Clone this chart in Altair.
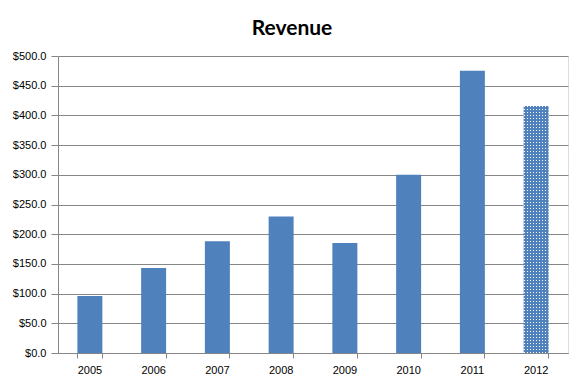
import altair as alt
import pandas as pd

years = ["2005", "2006", "2007", "2008", "2009", "2010", "2011", "2012"]
revenue = [96, 143, 188, 230, 185, 300, 475, 416]
forecast = [False, False, False, False, False, False, False, True]
yticks = [0, 50, 100, 150, 200, 250, 300, 350, 400, 450, 500]

BLUE = "#4f81bd"
GRID = "#868686"
W, H = 510, 297
YMAX = 500
BAR_W = 25.0

df = pd.DataFrame({"year": years, "revenue": revenue, "forecast": forecast})


def stripes(n_px, period, on, c_on, c_off):
    stops = []
    k = 0
    while k * period < n_px:
        a = k * period / n_px
        b = min((k * period + on) / n_px, 1.0)
        c = min((k + 1) * period / n_px, 1.0)
        stops += [
            {"offset": a, "color": c_on},
            {"offset": b, "color": c_on},
            {"offset": b, "color": c_off},
            {"offset": c, "color": c_off},
        ]
        k += 1
    return stops


fc_val = [v for v, f in zip(revenue, forecast) if f][0]
bar_h = fc_val / YMAX * H
CLEAR = "rgba(255,255,255,0)"
hgrad = {"gradient": "linear", "x1": 0, "y1": 0, "x2": 0, "y2": 1,
         "stops": stripes(bar_h, 3, 1, "#ffffff", CLEAR)}
vgrad = {"gradient": "linear", "x1": 0, "y1": 0, "x2": 1, "y2": 0,
         "stops": stripes(BAR_W, 3, 1, CLEAR, BLUE)}

FONT = "Liberation Sans"

base = alt.Chart(df).encode(
    x=alt.X("year:N", title=None,
            scale=alt.Scale(paddingInner=0.608, paddingOuter=0.304),
            axis=alt.Axis(labelAngle=0, domainColor=GRID, tickColor=GRID,
                          tickSize=5, bandPosition=1, tickExtra=True,
                          labelFont=FONT, labelFontSize=11, labelColor="#000000",
                          labelPadding=6, grid=False)),
    y=alt.Y("revenue:Q", title=None,
            scale=alt.Scale(domain=[0, YMAX], nice=False),
            axis=alt.Axis(values=yticks, format="$.1f", grid=True, gridColor=GRID,
                          domainColor=GRID, tickColor=GRID, tickSize=7,
                          labelPadding=5, labelFont=FONT, labelFontSize=11,
                          labelColor="#000000")),
)

bars = base.mark_bar(color=BLUE)
pat1 = base.transform_filter("datum.forecast").mark_bar(fill=hgrad)
pat2 = base.transform_filter("datum.forecast").mark_bar(fill=vgrad)

chart = alt.layer(bars, pat1, pat2).properties(
    width=W, height=H,
    autosize=alt.AutoSizeParams(type="none"),
    padding={"left": 50, "top": 48, "right": 8, "bottom": 27},
    title=alt.TitleParams("Revenue", font="Lato", fontSize=21,
                          fontWeight="bold", anchor="middle", dx=-21, offset=-6,
                          baseline="alphabetic", color="#000000"),
).configure_view(stroke=None).configure(background="#ffffff")

chart.save("out.html", embed_options={"renderer": "svg", "actions": False})
